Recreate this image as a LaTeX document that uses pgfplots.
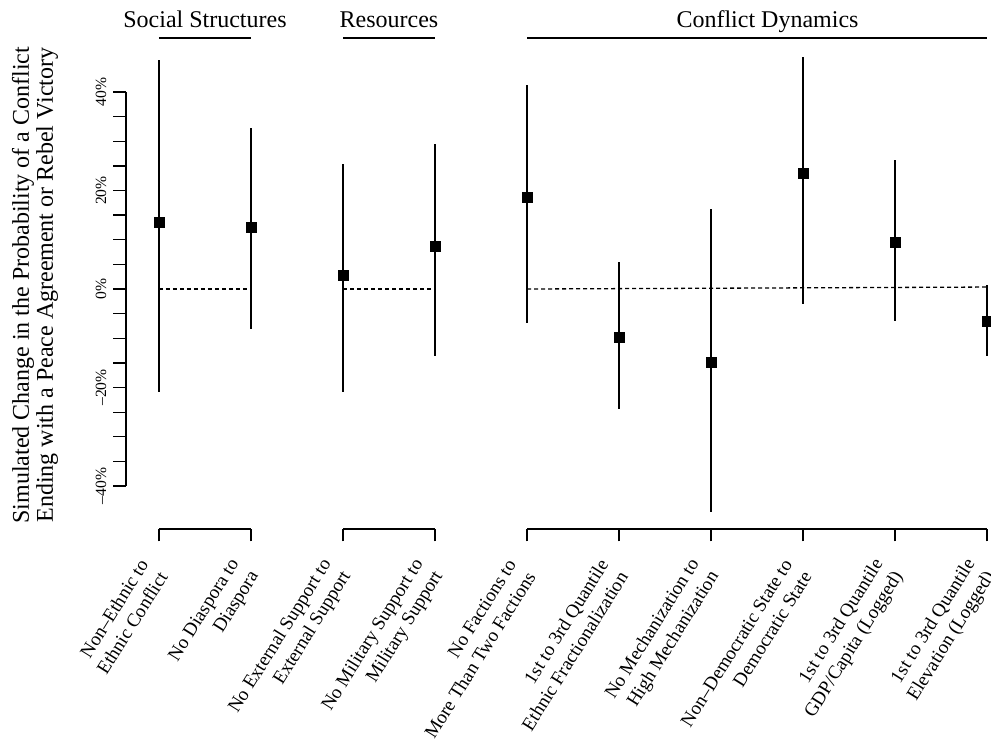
\documentclass[border=0pt]{standalone}
\usepackage{fontspec}
\setmainfont{Liberation Serif}
\usepackage{pgfplots}
\usepackage{pgfplotstable}
\pgfplotsset{compat=1.18}

% simulated change (%) with upper / lower interval widths
\pgfplotstableread{
x y ep em
0 13.6 32.9 34.5
1 12.6 20.1 20.7
2 2.8 22.6 23.7
3 8.7 20.7 22.3
4 18.5 22.9 25.4
5 -9.9 15.4 14.5
6 -14.8 31.0 30.5
7 23.5 23.6 26.5
8 9.5 16.7 16.0
9 -6.5 7.4 7.1
}\effects

\begin{document}
\begin{tikzpicture}
\begin{axis}[
    scale only axis,
    width=432.5pt, height=257.8pt,
    xmin=-0.36, xmax=9.043,
    ymin=-48.7, ymax=56,
    clip=false,
    axis x line*=bottom, axis y line*=left,
    axis line style={draw=none},
    tick align=outside,
    major tick length=6.25pt, minor tick length=6.25pt,
    tick style={black, line width=0.65pt},
    xtick={0,...,9},
    xticklabels={
        {Non–Ethnic to\\Ethnic Conflict},
        {No Diaspora to\\Diaspora},
        {No External Support to\\External Support},
        {No Military Support to\\Military Support},
        {No Factions to\\More Than Two Factions},
        {1st to 3rd Quantile\\Ethnic Fractionalization},
        {No Mechanization to\\High Mechanization},
        {Non–Democratic State to\\Democratic State},
        {1st to 3rd Quantile\\GDP/Capita (Logged)},
        {1st to 3rd Quantile\\Elevation (Logged)}},
    xticklabel style={font=\fontsize{9.5}{11.5}\selectfont, align=right,
        yshift=-10pt, xshift=-1pt, rotate=58, anchor=east},
    ytick={-40,-20,0,20,40},
    yticklabels={–40\%,–20\%,0\%,20\%,40\%},
    minor ytick={-35,-30,-25,-15,-10,-5,5,10,15,25,30,35},
    yticklabel style={font=\fontsize{7.8}{8}\selectfont, rotate=90, anchor=south},
    ylabel={Simulated Change in the Probability of a Conflict\\Ending with a Peace Agreement or Rebel Victory},
    every axis y label/.style={at={(rel axis cs:-0.1051,0.4728)}, rotate=90,
        anchor=center, align=center, font=\fontsize{12}{12}\selectfont},
]

% zero reference lines per group
\addplot[black, line width=0.65pt, dash pattern=on 2pt off 1.5pt] coordinates {(0,0) (1,0)};
\addplot[black, line width=0.65pt, dash pattern=on 2pt off 1.5pt] coordinates {(2,0) (3,0)};
\addplot[black, line width=0.65pt, dash pattern=on 2pt off 1.5pt] coordinates {(4,0) (9,0.4)};

\addplot[black, only marks, mark=square*, mark size=2.5pt,
    error bars/.cd, y dir=both, y explicit, error mark=none,
    error bar style={line width=1pt, black}]
    table[x=x, y=y, y error plus=ep, y error minus=em] {\effects};

% axis segments
\draw[line width=0.65pt] (axis cs:-0.36,-40) -- (axis cs:-0.36,40);
\draw[line width=0.65pt] (axis cs:0,-48.7) -- (axis cs:1,-48.7);
\draw[line width=0.65pt] (axis cs:2,-48.7) -- (axis cs:3,-48.7);
\draw[line width=0.65pt] (axis cs:4,-48.7) -- (axis cs:9,-48.7);

% group headers
\draw[line width=1pt] (axis cs:0,50.96) -- (axis cs:1,50.96);
\draw[line width=1pt] (axis cs:2,50.96) -- (axis cs:3,50.96);
\draw[line width=1pt] (axis cs:4,50.96) -- (axis cs:9,50.96);
\node[anchor=base, font=\fontsize{12}{12}\selectfont] at (axis cs:0.5,53.0) {Social Structures};
\node[anchor=base, font=\fontsize{12}{12}\selectfont] at (axis cs:2.5,53.0) {Resources};
\node[anchor=base, font=\fontsize{12}{12}\selectfont] at (axis cs:6.614,53.0) {Conflict Dynamics};

\coordinate (bl) at (axis cs:-1.728,-92.59);
\coordinate (tr) at (axis cs:9.043,58.68);
\end{axis}
\pgfresetboundingbox
\useasboundingbox (bl) rectangle (tr);
\end{tikzpicture}
\end{document}
